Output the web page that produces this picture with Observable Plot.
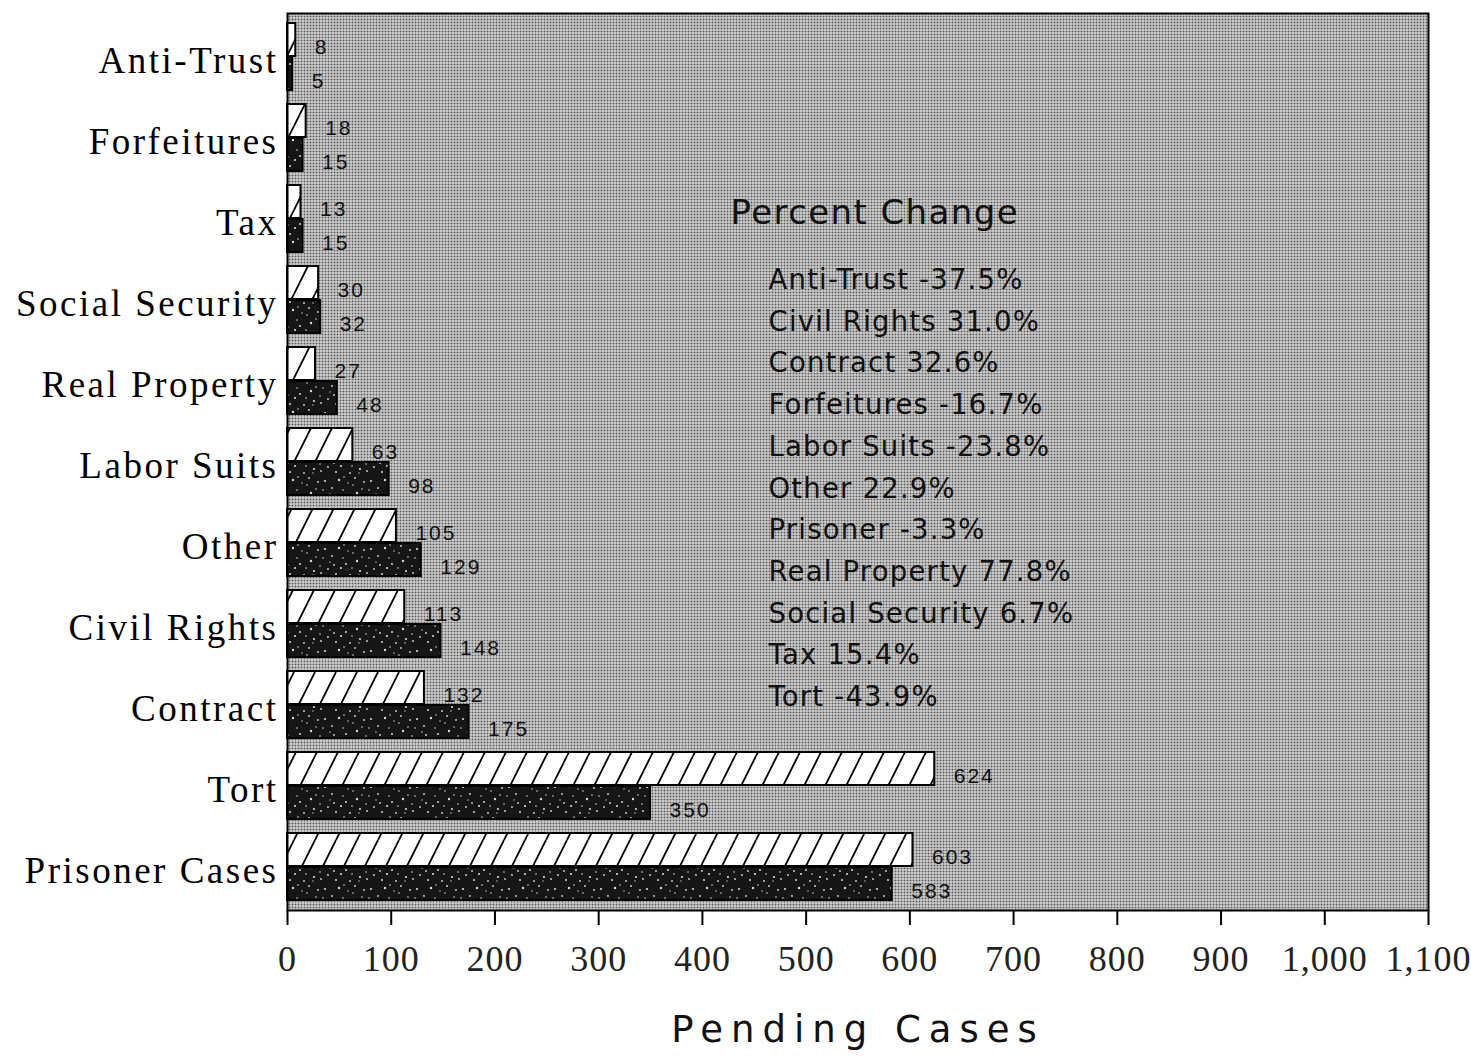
<!DOCTYPE html>
<html>
<head>
<meta charset="utf-8">
<script src="https://cdn.jsdelivr.net/npm/d3@7"></script>
<script src="https://cdn.jsdelivr.net/npm/@observablehq/plot@0.6"></script>
<style>
  body { margin: 0; background: #fff; }
</style>
</head>
<body>
<div id="chart"></div>
<script>
// Case categories, listed top to bottom
const categories = [
  "Anti-Trust", "Forfeitures", "Tax", "Social Security", "Real Property",
  "Labor Suits", "Other", "Civil Rights", "Contract", "Tort", "Prisoner Cases"
];
// Pending cases, earlier period (hatched bars)
const pendingBefore = [8, 18, 13, 30, 27, 63, 105, 113, 132, 624, 603];
// Pending cases, later period (dark bars)
const pendingAfter = [5, 15, 15, 32, 48, 98, 129, 148, 175, 350, 583];

const percentTitle = "Percent Change";
const percentLines = [
  "Anti-Trust -37.5%", "Civil Rights 31.0%", "Contract 32.6%", "Forfeitures -16.7%",
  "Labor Suits -23.8%", "Other 22.9%", "Prisoner -3.3%", "Real Property 77.8%",
  "Social Security 6.7%", "Tax 15.4%", "Tort -43.9%"
];
const xTicks = [0, 100, 200, 300, 400, 500, 600, 700, 800, 900, 1000, 1100];
const xTitle = "Pending Cases";

const rows = categories.map((category, i) => ({
  category,
  before: pendingBefore[i],
  after: pendingAfter[i]
}));

const half = 34; // half of the band: one bar per period
const sans = "'DejaVu Sans', Verdana, sans-serif";

const chart = Plot.plot({
  width: 1471,
  height: 1062,
  marginTop: 13,
  marginBottom: 152,
  marginLeft: 287,
  marginRight: 43,
  style: { background: "white", fontFamily: "'Liberation Sans', Arial, sans-serif", color: "black" },
  x: { domain: [0, 1100] },
  y: { domain: categories, paddingInner: 0.17, paddingOuter: 0.07 },
  marks: [
    Plot.frame({ fill: "url(#dotScreen)" }),
    Plot.barX(rows, { y: "category", x: "before", insetBottom: half, fill: "url(#hatch)", stroke: "black", strokeWidth: 2 }),
    Plot.barX(rows, { y: "category", x: "after", insetTop: half, fill: "url(#speckle)", stroke: "black", strokeWidth: 2 }),
    Plot.text(rows, { y: "category", x: "before", text: d => String(d.before), dx: 19, dy: -half / 2 + 7, textAnchor: "start", fontSize: 21, fill: "#111", ariaDescription: "value-label" }),
    Plot.text(rows, { y: "category", x: "after", text: d => String(d.after), dx: 19, dy: half / 2 + 7, textAnchor: "start", fontSize: 21, fill: "#111", ariaDescription: "value-label" }),
    Plot.axisY({ tickSize: 0, tickPadding: 9, fontSize: 37, fontFamily: "'Liberation Serif', serif", dy: 4, label: null }),
    Plot.axisX({ ticks: xTicks, tickFormat: d3.format(","), tickSize: 15, tickPadding: 20, fontSize: 36, fontFamily: "'Liberation Serif', serif", strokeWidth: 2, label: null }),
    Plot.frame({ stroke: "black", strokeWidth: 2 }),
    Plot.text([percentTitle], { text: d => d, frameAnchor: "top-left", dx: 443, dy: 186, textAnchor: "start", lineAnchor: "top", fontSize: 34, fontFamily: sans, fill: "#111", ariaDescription: "percent-title" }),
    Plot.text([percentLines.join("\n")], { text: d => d, frameAnchor: "top-left", dx: 481, dy: 246, textAnchor: "start", lineAnchor: "top", lineHeight: 1.516, fontSize: 27.5, fontFamily: sans, fill: "#111", ariaDescription: "percent-list" }),
    Plot.text([xTitle], { text: d => d, frameAnchor: "bottom", dx: 0, dy: 105, lineAnchor: "top", fontSize: 37, fontFamily: sans, fill: "#111", ariaDescription: "x-title" })
  ]
});

// Fill patterns: dot screen background, diagonal hatching, speckled black
const svg = d3.select(chart);
const defs = svg.insert("defs", ":first-child");

const dots = defs.append("pattern").attr("id", "dotScreen")
  .attr("patternUnits", "userSpaceOnUse").attr("width", 3).attr("height", 3);
dots.append("rect").attr("width", 3).attr("height", 3).attr("fill", "#eaeaea");
dots.append("rect").attr("width", 2).attr("height", 2).attr("fill", "#5a5a5a");

const hatch = defs.append("pattern").attr("id", "hatch")
  .attr("patternUnits", "userSpaceOnUse").attr("width", 21).attr("height", 42);
hatch.append("rect").attr("width", 21).attr("height", 42).attr("fill", "white");
hatch.append("path").attr("d", "M-21,42L0,0M0,42L21,0M21,42L42,0")
  .attr("stroke", "black").attr("stroke-width", 1.8);

const speckle = defs.append("pattern").attr("id", "speckle")
  .attr("patternUnits", "userSpaceOnUse").attr("width", 46).attr("height", 34);
speckle.append("rect").attr("width", 46).attr("height", 34).attr("fill", "#161616");
const speckleDots = [
  [3, 5, 1.1], [10, 12, 0.9], [17, 4, 1.2], [24, 20, 1], [31, 9, 0.8], [38, 27, 1.1],
  [6, 25, 0.9], [14, 30, 1], [21, 14, 0.8], [28, 31, 0.9], [35, 17, 1.2], [42, 6, 0.9],
  [44, 22, 0.8], [8, 18, 0.7], [19, 24, 1.1], [33, 2, 0.9], [26, 7, 0.7], [40, 13, 0.8],
  [1, 14, 0.8], [12, 21, 0.9], [30, 24, 0.8], [37, 31, 0.7], [22, 1, 0.8], [45, 29, 0.9]
];
speckle.selectAll("circle").data(speckleDots).join("circle")
  .attr("cx", d => d[0]).attr("cy", d => d[1]).attr("r", d => d[2]).attr("fill", "#d8d8d8");

// Letter spacing for the text groups
svg.selectAll('g[aria-label="y-axis tick label"]').attr("letter-spacing", "2.5px");
svg.selectAll('g[aria-label="x-axis tick label"]').attr("letter-spacing", "1px").attr("fill", "#222");
svg.selectAll('g[aria-description="value-label"]').attr("letter-spacing", "2px");
svg.selectAll('g[aria-description="percent-title"]').attr("letter-spacing", "1.4px");
svg.selectAll('g[aria-description="percent-list"]').attr("letter-spacing", "1.2px");
svg.selectAll('g[aria-description="x-title"]').attr("letter-spacing", "8px");

document.getElementById("chart").append(chart);
</script>
</body>
</html>
